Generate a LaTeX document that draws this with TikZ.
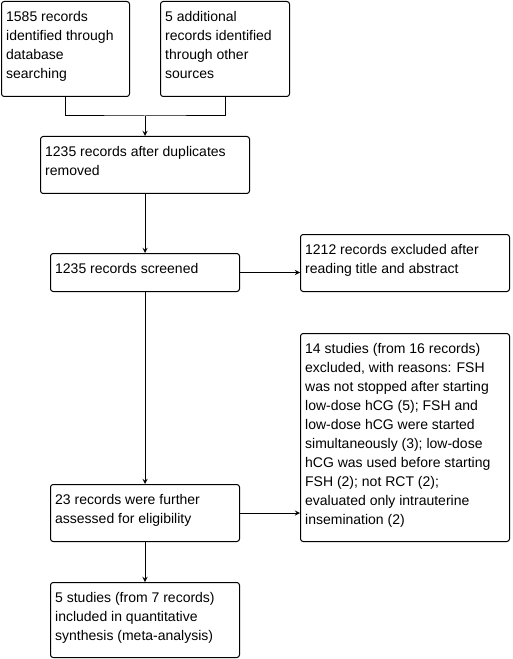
\documentclass[tikz,border=0pt]{standalone}
\usepackage{fontspec}
\setmainfont{Liberation Sans}
\usetikzlibrary{positioning}

\tikzset{
  box/.style={draw, line width=0.75pt, rounded corners=2pt, anchor=north west,
    inner xsep=3.5pt, inner ysep=5pt, font=\fontsize{10.5}{14.25}\selectfont},
  link/.style={line width=0.75pt}
}
\newcommand{\boxtext}[3]{\parbox[t][#2][t]{#1}{\raggedright\strut #3}}

\begin{document}
\begin{tikzpicture}[x=0.75pt, y=-0.75pt, >=stealth]
\useasboundingbox (0,0) rectangle (512,659);

% identification
  \node[box] (ident) at (1,1)   {\boxtext{89pt}{61.25pt}{1585 records\\identified through\\database\\searching}};
  \node[box] (other) at (160,1) {\boxtext{89.75pt}{61.25pt}{5 additional\\records identified\\through other\\sources}};

% screening
  \node[box] (dupl)   at (40,136)  {\boxtext{149.75pt}{32.75pt}{1235 records after duplicates\\removed}};
  \node[box] (screen) at (50,253)  {\boxtext{134.75pt}{18.5pt}{1235 records screened}};
  \node[box] (excl)   at (300,234) {\boxtext{149.75pt}{32.75pt}{1212 records excluded after\\reading title and abstract}};

% eligibility and inclusion
  \node[box] (elig)   at (50,484)  {\boxtext{134.75pt}{32.75pt}{23 records were further\\assessed for eligibility}};
  \node[box] (reason) at (300,333) {\boxtext{149.75pt}{146pt}{14 studies (from 16 records)\\excluded, with reasons: FSH\\was not stopped after starting\\low-dose hCG (5); FSH and\\low-dose hCG were started\\simultaneously (3); low-dose\\hCG was used before starting\\FSH (2); not RCT (2);\\evaluated only intrauterine\\insemination (2)}};
  \node[box] (incl)   at (50,582)  {\boxtext{134.75pt}{46.25pt}{5 studies (from 7 records)\\included in quantitative\\synthesis (meta-analysis)}};

% connectors
  \coordinate (join) at (145,116);
  \draw[link] (ident.south) |- (join) -| (other.south);
  \draw[link,->] (join) -- (dupl.north);
  \draw[link,->] (dupl.south) -- (screen.north);
  \draw[link,->] (screen.east) -- (screen.east -| excl.west);
  \draw[link,->] (screen.south) -- (elig.north);
  \draw[link,->] (elig.east) -- (elig.east -| reason.west);
  \draw[link,->] (elig.south) -- (incl.north);

\end{tikzpicture}
\end{document}
